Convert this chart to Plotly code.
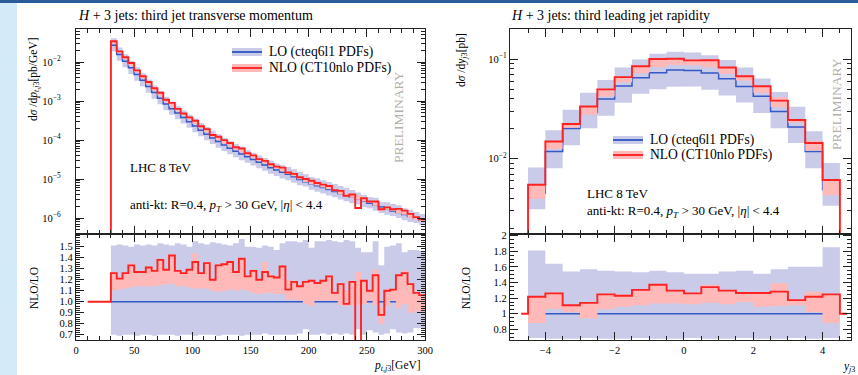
import plotly.graph_objects as go

# ---------------- data: left panel (third jet pT) ----------------
pt_edges = list(range(30, 305, 5))  # 54 bins of 5 GeV
lo_pt = [2.69e-2, 1.55e-2, 1.05e-2, 7.08e-3, 4.79e-3, 3.39e-3, 2.34e-3, 1.66e-3, 1.18e-3, 8.32e-4,
         6.31e-4, 4.90e-4, 3.80e-4, 2.95e-4, 2.29e-4, 1.78e-4, 1.41e-4, 1.12e-4, 9.12e-5, 7.41e-5,
         6.17e-5, 5.13e-5, 4.37e-5, 3.72e-5, 3.16e-5, 2.69e-5, 2.29e-5, 1.95e-5, 1.70e-5, 1.48e-5,
         1.32e-5, 1.15e-5, 9.77e-6, 8.51e-6, 7.59e-6, 6.76e-6, 6.03e-6, 5.37e-6, 4.79e-6, 4.27e-6,
         3.80e-6, 3.39e-6, 3.02e-6, 2.69e-6, 2.40e-6, 2.14e-6, 1.91e-6, 1.70e-6, 1.51e-6, 1.38e-6,
         1.23e-6, 1.10e-6, 9.77e-7, 8.71e-7]
ratio_pt = [1.26, 1.21, 1.26, 1.33, 1.27, 1.27, 1.31, 1.28, 1.38, 1.29,
            1.42, 1.28, 1.26, 1.29, 1.36, 1.26, 1.35, 1.20, 1.33, 1.34,
            1.36, 1.27, 1.39, 1.23, 1.28, 1.20, 1.27, 1.23, 1.22, 1.32,
            1.11, 1.18, 1.14, 1.18, 1.19, 1.17, 1.19, 1.23, 1.08, 1.16,
            0.98, 1.18, 0.60, 1.19, 1.10, 1.24, 0.88, 1.10, 1.11, 1.24,
            1.26, 1.16, 1.08, 1.06]
nlo_dn_pt = [1.10, 1.11, 1.12, 1.13, 1.14, 1.14, 1.14, 1.14, 1.15, 1.16,
             1.16, 1.14, 1.14, 1.13, 1.12, 1.12, 1.12, 1.10, 1.09, 1.10,
             1.11, 1.10, 1.11, 1.10, 1.08, 1.07, 1.08, 1.08, 1.07, 1.07,
             1.02, 1.02, 1.01, 0.98, 0.96, 1.01, 1.01, 1.01, 1.01, 0.97,
             0.96, 0.97, 0.97, 0.98, 1.01, 0.97, 0.80, 0.96, 1.01, 0.94,
             0.98, 0.90, 0.91, 0.91]
nlo_up_pt = [1.27, 1.22, 1.27, 1.35, 1.28, 1.28, 1.32, 1.30, 1.39, 1.30,
             1.43, 1.29, 1.27, 1.30, 1.44, 1.27, 1.36, 1.21, 1.34, 1.35,
             1.37, 1.28, 1.40, 1.24, 1.29, 1.21, 1.36, 1.24, 1.23, 1.33,
             1.20, 1.19, 1.15, 1.19, 1.20, 1.18, 1.20, 1.24, 1.09, 1.17,
             1.10, 1.19, 1.27, 1.20, 1.11, 1.29, 0.95, 1.11, 1.12, 1.25,
             1.28, 1.17, 1.09, 1.07]
lo_up_pt = [1.51, 1.52, 1.51, 1.50, 1.52, 1.51, 1.52, 1.51, 1.53, 1.52,
            1.51, 1.53, 1.52, 1.50, 1.55, 1.53, 1.52, 1.54, 1.53, 1.52,
            1.51, 1.53, 1.57, 1.50, 1.50, 1.49, 1.51, 1.50, 1.47, 1.53,
            1.55, 1.55, 1.54, 1.56, 1.49, 1.55, 1.55, 1.56, 1.55, 1.54,
            1.56, 1.55, 1.49, 1.45, 1.45, 1.55, 1.33, 1.50, 1.51, 1.53,
            1.45, 1.47, 1.47, 1.46]
lo_dn_pt = [0.70, 0.69, 0.70, 0.70, 0.69, 0.70, 0.70, 0.69, 0.70, 0.70,
            0.70, 0.69, 0.70, 0.70, 0.69, 0.70, 0.70, 0.70, 0.69, 0.70,
            0.70, 0.70, 0.69, 0.70, 0.70, 0.70, 0.71, 0.70, 0.70, 0.70,
            0.70, 0.70, 0.71, 0.75, 0.70, 0.70, 0.71, 0.70, 0.71, 0.70,
            0.71, 0.70, 0.75, 0.70, 0.74, 0.72, 0.70, 0.71, 0.75, 0.72,
            0.71, 0.72, 0.76, 0.76]
pt_ratio_lead = (10, 1.0)  # empty bins below the 30 GeV cut (ratio set to 1)

# ---------------- data: right panel (third jet rapidity) ----------------
y_edges = [-4.5 + 0.5 * i for i in range(19)]  # 18 bins
lo_y = [4.5e-3, 0.0118, 0.0201, 0.0293, 0.0397, 0.0535, 0.0648, 0.0730, 0.0775,
        0.0769, 0.0724, 0.0635, 0.0530, 0.0422, 0.0298, 0.0208, 0.0118, 4.9e-3]
ratio_y = [1.217, 1.261, 1.108, 1.139, 1.248, 1.230, 1.305, 1.370, 1.296,
           1.261, 1.340, 1.296, 1.265, 1.265, 1.283, 1.174, 1.217, 1.248]
lo_up_y = [1.81, 1.64, 1.54, 1.57, 1.55, 1.54, 1.53, 1.55, 1.53,
           1.51, 1.51, 1.54, 1.55, 1.51, 1.57, 1.60, 1.60, 1.85]
lo_dn_y = [0.69, 0.68, 0.68, 0.69, 0.68, 0.68, 0.69, 0.68, 0.68,
           0.69, 0.68, 0.68, 0.69, 0.68, 0.68, 0.69, 0.68, 0.69]
nlo_dn_y = [0.88, 1.06, 1.02, 0.94, 1.06, 1.09, 1.11, 1.13, 1.13,
            1.12, 1.14, 1.12, 1.15, 1.09, 1.10, 1.11, 1.02, 0.88]
nlo_up_y = [1.22, 1.27, 1.11, 1.14, 1.25, 1.25, 1.31, 1.37, 1.30,
            1.27, 1.37, 1.30, 1.27, 1.27, 1.39, 1.18, 1.28, 1.25]
y_ratio_lead = (-4.7, 1.0)
y_ratio_tail = (4.7, 1.0)

# tick labels
log_ticks_left = [1e-6, 1e-5, 1e-4, 1e-3, 1e-2]
log_text_left = ["10<sup>−6</sup>", "10<sup>−5</sup>", "10<sup>−4</sup>", "10<sup>−3</sup>", "10<sup>−2</sup>"]
log_ticks_right = [1e-2, 1e-1]
log_text_right = ["10<sup>−2</sup>", "10<sup>−1</sup>"]
ratio_ticks_left = [0.7, 0.8, 0.9, 1.0, 1.1, 1.2, 1.3, 1.4, 1.5]
ratio_text_left = ["0.7", "0.8", "0.9", "1.0", "1.1", "1.2", "1.3", "1.4", "1.5"]
ratio_ticks_right = [0.8, 1.0, 1.2, 1.4, 1.6, 1.8, 2.0]
ratio_text_right = ["0.8", "1", "1.2", "1.4", "1.6", "1.8", "2"]

# ---------------- style ----------------
FONT = "Liberation Serif, DejaVu Serif, serif"
BLUE = "#3458c6"
RED = "#ff2222"
LAV = "#c9cbe9"
PINK = "#ffb9b9"
TINY = 1e-9
W, H = 858, 375


def px(x):
    return x / W


def py(y):
    return 1 - y / H


fig = go.Figure()


def add_band(edges, lo, hi, color, xa, ya):
    xs, ys = [], []
    for i in range(len(lo)):
        xs += [edges[i], edges[i + 1]]
        ys += [hi[i], hi[i]]
    for i in reversed(range(len(lo))):
        xs += [edges[i + 1], edges[i]]
        ys += [lo[i], lo[i]]
    fig.add_trace(go.Scatter(x=xs, y=ys, fill="toself", fillcolor=color, mode="lines",
                             line=dict(width=0, color=color), hoverinfo="skip",
                             xaxis=xa, yaxis=ya, showlegend=False))


def add_step(edges, vals, color, width, xa, ya, pre=(), post=()):
    x = [p[0] for p in pre] + list(edges) + [p[0] for p in post]
    y = [p[1] for p in pre] + list(vals) + [vals[-1]] + [p[1] for p in post]
    fig.add_trace(go.Scatter(x=x, y=y, mode="lines", line=dict(color=color, width=width, shape="hv"),
                             hoverinfo="skip", xaxis=xa, yaxis=ya, showlegend=False))


def mul(a, b):
    return [u * v for u, v in zip(a, b)]


# ----- left top -----
nlo_pt = mul(lo_pt, ratio_pt)
add_band(pt_edges, mul(lo_pt, lo_dn_pt), mul(lo_pt, lo_up_pt), LAV, "x", "y")
add_step(pt_edges, lo_pt, BLUE, 1.5, "x", "y")
add_band(pt_edges, mul(lo_pt, nlo_dn_pt), mul(lo_pt, nlo_up_pt), PINK, "x", "y")
add_step(pt_edges, nlo_pt, RED, 1.9, "x", "y", pre=[(pt_edges[0], TINY)])

# ----- left ratio -----
add_band(pt_edges, lo_dn_pt, lo_up_pt, LAV, "x2", "y2")
add_step(pt_edges, [v / v for v in lo_pt], BLUE, 1.5, "x2", "y2")
add_band(pt_edges, nlo_dn_pt, nlo_up_pt, PINK, "x2", "y2")
add_step(pt_edges, ratio_pt, RED, 1.9, "x2", "y2", pre=[pt_ratio_lead])

# ----- right top -----
nlo_y = mul(lo_y, ratio_y)
add_band(y_edges, mul(lo_y, lo_dn_y), mul(lo_y, lo_up_y), LAV, "x3", "y3")
add_step(y_edges, lo_y, BLUE, 1.5, "x3", "y3")
add_band(y_edges, mul(lo_y, nlo_dn_y), mul(lo_y, nlo_up_y), PINK, "x3", "y3")
add_step(y_edges, nlo_y, RED, 1.9, "x3", "y3", pre=[(y_edges[0], TINY)], post=[(y_edges[-1], TINY)])

# ----- right ratio -----
add_band(y_edges, lo_dn_y, lo_up_y, LAV, "x4", "y4")
add_step(y_edges, [v / v for v in lo_y], BLUE, 1.5, "x4", "y4")
add_band(y_edges, nlo_dn_y, nlo_up_y, PINK, "x4", "y4")
add_step(y_edges, ratio_y, RED, 1.9, "x4", "y4", pre=[y_ratio_lead],
         post=[(y_edges[-1], y_ratio_tail[1]), y_ratio_tail])

# ---------------- axes ----------------
tickfont = dict(family=FONT, size=10.5, color="black")
base = dict(showline=True, linecolor="#222", linewidth=1.4, mirror="allticks", ticks="inside",
            ticklen=8, tickwidth=1.2, tickcolor="#222", showgrid=False, zeroline=False,
            tickfont=tickfont, automargin=False)

xL = [px(76), px(425)]
xR = [px(510), px(851)]
yTop = [py(234), py(29)]
yRat = [py(340), py(234)]

minor_log_left = [m * 10.0 ** e for e in range(-7, -1) for m in range(2, 10)]
minor_log_right = [m * 10.0 ** e for e in range(-3, 0) for m in range(2, 10)]

fig.update_layout(
    width=W, height=H, margin=dict(l=0, r=0, t=0, b=0, autoexpand=False),
    paper_bgcolor="white", plot_bgcolor="white", showlegend=False,
    font=dict(family=FONT, color="black"),
    xaxis=dict(base, domain=xL, anchor="y", range=[0, 300], dtick=50, tick0=0, showticklabels=False,
               minor=dict(dtick=10, ticklen=4, ticks="inside", tickcolor="#222")),
    yaxis=dict(base, domain=yTop, anchor="x", type="log", range=[-6.41, -1.154],
               tickmode="array", tickvals=log_ticks_left, ticktext=log_text_left,
               ticklabelstandoff=12,
               minor=dict(tickmode="array", tickvals=minor_log_left, ticklen=4, ticks="inside",
                          tickcolor="#222")),
    xaxis2=dict(base, domain=xL, anchor="y2", range=[0, 300], dtick=50, tick0=0,
                minor=dict(dtick=10, ticklen=4, ticks="inside", tickcolor="#222")),
    yaxis2=dict(base, domain=yRat, anchor="x2", range=[0.652, 1.615],
                tickmode="array", tickvals=ratio_ticks_left, ticktext=ratio_text_left,
                minor=dict(dtick=0.02, tick0=0, ticklen=4, ticks="inside", tickcolor="#222")),
    xaxis3=dict(base, domain=xR, anchor="y3", range=[-5.02, 4.82], dtick=2, tick0=0,
                showticklabels=False,
                minor=dict(dtick=0.5, tick0=0, ticklen=4, ticks="inside", tickcolor="#222")),
    yaxis3=dict(base, domain=yTop, anchor="x3", type="log", range=[-2.755, -0.699],
                tickmode="array", tickvals=log_ticks_right, ticktext=log_text_right,
                minor=dict(tickmode="array", tickvals=minor_log_right, ticklen=4, ticks="inside",
                           tickcolor="#222")),
    xaxis4=dict(base, domain=xR, anchor="y4", range=[-5.02, 4.82], dtick=2, tick0=0,
                minor=dict(dtick=0.5, tick0=0, ticklen=4, ticks="inside", tickcolor="#222")),
    yaxis4=dict(base, domain=yRat, anchor="x4", range=[0.664, 2.02],
                tickmode="array", tickvals=ratio_ticks_right, ticktext=ratio_text_right,
                minor=dict(dtick=0.05, tick0=0, ticklen=4, ticks="inside", tickcolor="#222")),
)

# ---------------- slide decoration ----------------
shapes = [
    dict(type="rect", xref="paper", yref="paper", x0=0, x1=px(17), y0=0, y1=1,
         fillcolor="#d3ebf8", line=dict(width=0), layer="below"),
    dict(type="rect", xref="paper", yref="paper", x0=0, x1=1, y0=py(3), y1=1,
         fillcolor="#2b5b99", line=dict(width=0), layer="below"),
]


def legend_sample(x0, x1, yc, patch, line):
    shapes.append(dict(type="rect", xref="paper", yref="paper", x0=px(x0), x1=px(x1),
                       y0=py(yc + 4), y1=py(yc - 4), fillcolor=patch, line=dict(width=0)))
    shapes.append(dict(type="line", xref="paper", yref="paper", x0=px(x0), x1=px(x1),
                       y0=py(yc), y1=py(yc), line=dict(color=line, width=1.9)))


legend_sample(232, 262, 52, LAV, BLUE)
legend_sample(232, 262, 68, PINK, RED)
legend_sample(613, 643, 140, LAV, BLUE)
legend_sample(613, 643, 155, PINK, RED)
fig.update_layout(shapes=shapes)

ann = []


def text(x, y, s, size=12, xanchor="left", angle=0, color="black"):
    ann.append(dict(x=px(x), y=py(y), xref="paper", yref="paper", text=s, showarrow=False,
                    xanchor=xanchor, yanchor="middle", textangle=angle,
                    font=dict(family=FONT, size=size, color=color)))


text(76, 15, "<i>H</i> + 3 jets: third jet transverse momentum", 14)
text(509, 15, "<i>H</i> + 3 jets: third leading jet rapidity", 14)
text(267, 52, "LO (cteq6l1 PDFs)", 13.6)
text(267, 68, "NLO (CT10nlo PDFs)", 13.6)
text(648, 140, "LO (cteq6l1 PDFs)", 13.6)
text(648, 155, "NLO (CT10nlo PDFs)", 13.6)
text(128, 168, "LHC 8 TeV", 13)
text(128, 205, "anti-kt: R=0.4, <i>p<sub>T</sub></i> &gt; 30 GeV, |<i>η</i>| &lt; 4.4", 13)
text(585, 193, "LHC 8 TeV", 13)
text(585, 211, "anti-kt: R=0.4, <i>p<sub>T</sub></i> &gt; 30 GeV, |<i>η</i>| &lt; 4.4", 13)
text(398, 117, "PRELIMINARY", 13.5, "center", -90, "#b0b0b0")
text(836, 104, "PRELIMINARY", 13.5, "center", -90, "#b0b0b0")
text(34, 79, "d<i>σ</i> /d<i>p</i><sub><i>t,j</i>3</sub>[pb/GeV]", 11.5, "center", -90)
text(462, 60, "d<i>σ</i> /d<i>y</i><sub><i>j</i>3</sub>[pb]", 11.5, "center", -90)
text(34, 288, "NLO/LO", 11.5, "center", -90)
text(466, 288, "NLO/LO", 11.5, "center", -90)
text(423, 366, "<i>p</i><sub><i>t,j</i>3</sub>[GeV]", 11.5, "right")
text(849, 367, "<i>y</i><sub><i>j</i>3</sub>", 11.5, "center")
fig.update_layout(annotations=ann)

fig.write_html("out.html", config={"displayModeBar": False},
               post_script="document.body.style.margin='0px';document.body.style.padding='0px';")
